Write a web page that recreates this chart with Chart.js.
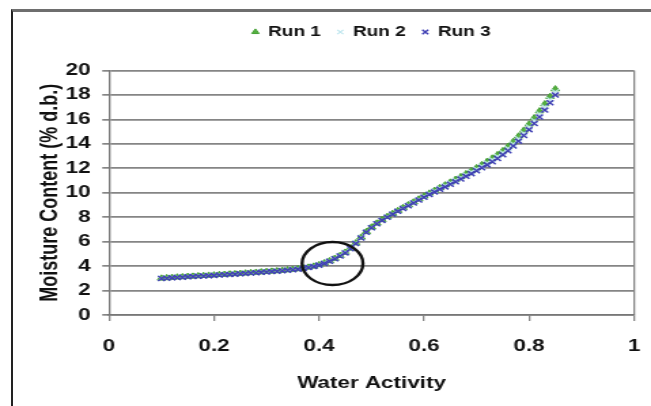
<!DOCTYPE html>
<html>
<head>
<meta charset="utf-8">
<script src="https://cdn.jsdelivr.net/npm/chart.js@4/dist/chart.umd.min.js"></script>
<style>
  html, body { margin: 0; padding: 0; background: #fff; overflow: hidden; }
  #wrap { position: relative; width: 651px; height: 406px; }
  /* the original picture is stretched sideways, so the chart is drawn narrower and scaled */
  #chart { position: absolute; left: 0; top: 0; transform-origin: 0 0; transform: scaleX(1.3591); }
  #frame { position: absolute; left: 11px; top: 9px; width: 700px; height: 500px;
           border-top: 3px solid #6e6e6e; border-left: 2px solid #222; pointer-events: none; }
</style>
</head>
<body>
<div id="wrap">
  <canvas id="chart" width="479" height="406"></canvas>
  <div id="frame"></div>
</div>
<script>
// Aktivitas air (sumbu x)
const waterActivity = [
  0.10, 0.11, 0.12, 0.13, 0.14, 0.15, 0.16, 0.17, 0.18, 0.19,
  0.20, 0.21, 0.22, 0.23, 0.24, 0.25, 0.26, 0.27, 0.28, 0.29,
  0.30, 0.31, 0.32, 0.33, 0.34, 0.35, 0.36, 0.37, 0.38, 0.39,
  0.40, 0.41, 0.42, 0.43, 0.44, 0.45, 0.46, 0.47, 0.48, 0.49,
  0.50, 0.51, 0.52, 0.53, 0.54, 0.55, 0.56, 0.57, 0.58, 0.59,
  0.60, 0.61, 0.62, 0.63, 0.64, 0.65, 0.66, 0.67, 0.68, 0.69,
  0.70, 0.71, 0.72, 0.73, 0.74, 0.75, 0.76, 0.77, 0.78, 0.79,
  0.80, 0.81, 0.82, 0.83, 0.84, 0.85
];

// Kadar air (% d.b.) tiap run
const run1 = [
  3.00, 3.03, 3.06, 3.09, 3.11, 3.14, 3.16, 3.19, 3.21, 3.24,
  3.26, 3.29, 3.31, 3.34, 3.36, 3.39, 3.42, 3.45, 3.48, 3.51,
  3.54, 3.57, 3.60, 3.64, 3.68, 3.72, 3.77, 3.83, 3.90, 3.98,
  4.10, 4.25, 4.42, 4.62, 4.85, 5.12, 5.45, 5.88, 6.35, 6.80,
  7.18, 7.50, 7.78, 8.04, 8.29, 8.53, 8.77, 9.00, 9.23, 9.47,
  9.71, 9.95, 10.18, 10.40, 10.62, 10.85, 11.08, 11.30, 11.54, 11.78,
  12.03, 12.28, 12.55, 12.82, 13.10, 13.42, 13.78, 14.18, 14.62, 15.10,
  15.60, 16.12, 16.68, 17.26, 17.86, 18.48
];
const run2 = [
  3.02, 3.04, 3.07, 3.10, 3.12, 3.15, 3.17, 3.20, 3.22, 3.25,
  3.27, 3.30, 3.32, 3.35, 3.37, 3.40, 3.43, 3.46, 3.49, 3.52,
  3.55, 3.58, 3.61, 3.65, 3.69, 3.73, 3.78, 3.84, 3.91, 3.99,
  4.11, 4.26, 4.43, 4.63, 4.87, 5.15, 5.48, 5.90, 6.35, 6.78,
  7.15, 7.47, 7.76, 8.02, 8.27, 8.51, 8.75, 8.98, 9.21, 9.45,
  9.69, 9.93, 10.15, 10.37, 10.58, 10.80, 11.02, 11.24, 11.47, 11.70,
  11.94, 12.18, 12.44, 12.70, 12.97, 13.28, 13.62, 14.00, 14.42, 14.88,
  15.38, 15.90, 16.45, 17.02, 17.62, 18.25
];
const run3 = [
  2.98, 3.01, 3.04, 3.07, 3.09, 3.12, 3.14, 3.17, 3.19, 3.22,
  3.24, 3.27, 3.29, 3.32, 3.34, 3.37, 3.40, 3.43, 3.46, 3.49,
  3.52, 3.55, 3.58, 3.62, 3.66, 3.70, 3.75, 3.81, 3.88, 3.96,
  4.08, 4.22, 4.40, 4.60, 4.83, 5.08, 5.42, 5.84, 6.30, 6.76,
  7.14, 7.46, 7.74, 8.00, 8.25, 8.48, 8.71, 8.94, 9.16, 9.40,
  9.63, 9.85, 10.07, 10.28, 10.48, 10.70, 10.90, 11.12, 11.34, 11.56,
  11.80, 12.04, 12.28, 12.54, 12.80, 13.10, 13.44, 13.82, 14.22, 14.68,
  15.16, 15.66, 16.20, 16.76, 17.36, 18.00
];

const seriesNames = ['Run 1', 'Run 2', 'Run 3'];
const xTicks = [0, 0.2, 0.4, 0.6, 0.8, 1];
const yTicks = [0, 2, 4, 6, 8, 10, 12, 14, 16, 18, 20];

// Lingkaran penanda di sekitar titik belok (koordinat data)
const circleCenter = { x: 0.4257, y: 4.21 };
const circleRadius = { x: 0.058, y: 1.76 };

const fontFamily = '"Liberation Sans", Arial, Helvetica, sans-serif';
const gridGrey = '#858585';

function toPoints(ys) {
  return waterActivity.map((x, i) => ({ x: x, y: ys[i] }));
}

const circlePlugin = {
  id: 'circleMark',
  afterDatasetsDraw(chart) {
    const xs = chart.scales.x, ys = chart.scales.y;
    const cx = xs.getPixelForValue(circleCenter.x);
    const cy = ys.getPixelForValue(circleCenter.y);
    const rx = Math.abs(xs.getPixelForValue(circleCenter.x + circleRadius.x) - cx);
    const ry = Math.abs(ys.getPixelForValue(circleCenter.y + circleRadius.y) - cy);
    const ctx = chart.ctx;
    ctx.save();
    ctx.beginPath();
    ctx.ellipse(cx, cy, rx, ry, 0, 0, Math.PI * 2);
    ctx.lineWidth = 2.4;
    ctx.strokeStyle = '#111';
    ctx.stroke();
    ctx.restore();
  }
};

new Chart(document.getElementById('chart'), {
  type: 'scatter',
  data: {
    datasets: [
      {
        label: seriesNames[0],
        data: toPoints(run1),
        pointStyle: 'triangle',
        pointRadius: 3.5,
        backgroundColor: '#55b040',
        borderColor: '#45a035',
        borderWidth: 1,
        order: 3
      },
      {
        label: seriesNames[1],
        data: toPoints(run2),
        pointStyle: 'crossRot',
        pointRadius: 3.5,
        backgroundColor: '#bfe6ee',
        borderColor: '#bfe6ee',
        borderWidth: 1.2,
        order: 2
      },
      {
        label: seriesNames[2],
        data: toPoints(run3),
        pointStyle: 'crossRot',
        pointRadius: 3.5,
        backgroundColor: '#4040b4',
        borderColor: '#4040b4',
        borderWidth: 1.5,
        order: 1
      }
    ]
  },
  options: {
    responsive: false,
    animation: false,
    layout: { padding: { left: 19, right: 12.5, top: 13, bottom: 0 } },
    plugins: {
      tooltip: { enabled: false },
      legend: {
        position: 'top',
        fullSize: false,
        labels: {
          usePointStyle: true,
          boxWidth: 4.6,
          boxHeight: 4.4,
          padding: 12,
          color: '#111',
          font: { family: fontFamily, size: 14, weight: 'bold' },
          sort: (a, b) => a.datasetIndex - b.datasetIndex
        }
      },
      // kotak kosong sebagai jarak antara legenda dan area grafik
      title: {
        display: true,
        text: '',
        weight: 500,
        font: { size: 1 },
        padding: { top: 0, bottom: 20.3 }
      }
    },
    scales: {
      x: {
        type: 'linear',
        min: 0,
        max: 1,
        afterBuildTicks: scale => { scale.ticks = xTicks.map(v => ({ value: v })); },
        afterFit: scale => { scale.height = 91; scale.paddingLeft = 0; scale.paddingRight = 0; },
        ticks: {
          padding: 16,
          color: '#111',
          font: { family: fontFamily, size: 16.5, weight: 'bold' },
          callback: value => String(value)
        },
        grid: {
          drawOnChartArea: true,
          color: ctx => (ctx.tick && ctx.tick.value === 1 ? gridGrey : 'rgba(0,0,0,0)'),
          tickColor: gridGrey,
          tickLength: 6,
          lineWidth: 1.3
        },
        border: { display: true, color: '#777', width: 1.5 },
        title: {
          display: true,
          text: 'Water Activity',
          color: '#111',
          padding: { top: 13, bottom: 13 },
          font: { family: fontFamily, size: 16.5, weight: 'bold' }
        }
      },
      y: {
        min: 0,
        max: 20,
        afterBuildTicks: scale => { scale.ticks = yTicks.map(v => ({ value: v })); },
        afterFit: scale => { scale.width = 61.2; },
        ticks: {
          padding: 8.5,
          color: '#111',
          font: { family: fontFamily, size: 16.5, weight: 'bold' }
        },
        grid: {
          color: gridGrey,
          tickColor: gridGrey,
          tickLength: 5,
          lineWidth: 1.7
        },
        border: { display: true, color: '#777', width: 1.3 },
        title: {
          display: true,
          text: 'Moisture Content (% d.b.)',
          color: '#111',
          padding: { top: 7, bottom: 7 },
          font: { family: fontFamily, size: 18, weight: 'bold' }
        }
      }
    }
  },
  plugins: [circlePlugin]
});
</script>
</body>
</html>
